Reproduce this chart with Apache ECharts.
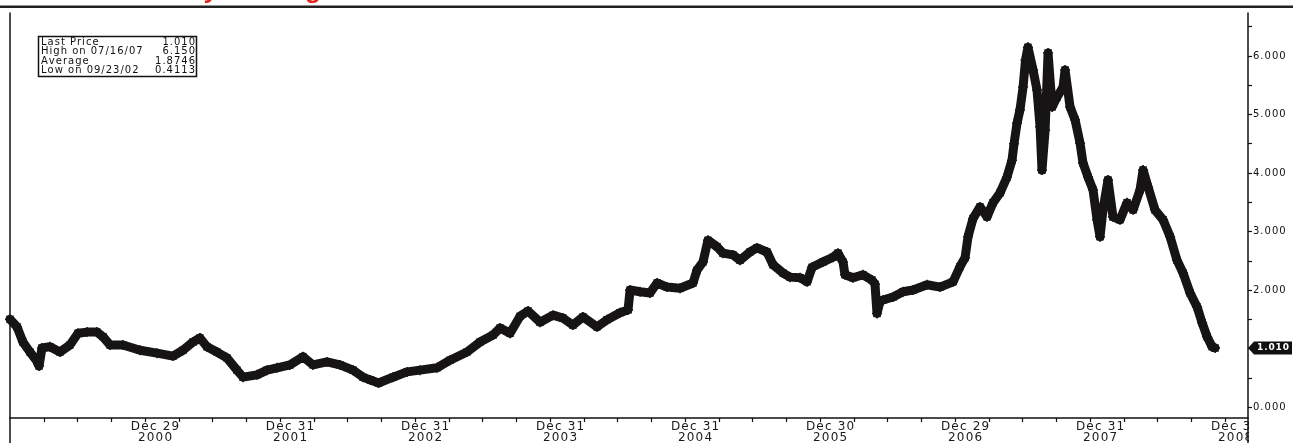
<!DOCTYPE html>
<html>
<head>
<meta charset="utf-8">
<script src="https://cdn.jsdelivr.net/npm/echarts@6/dist/echarts.min.js"></script>
<style>
  html, body { margin: 0; padding: 0; background: #fff; }
  #main { width: 1294px; height: 443px; }
</style>
</head>
<body>
<div id="main"></div>
<script>
// time in decimal years
const years = [
  2000.000, 2000.052, 2000.096, 2000.148, 2000.200, 2000.215, 2000.237, 2000.296, 2000.370, 2000.444,
  2000.504, 2000.570, 2000.644, 2000.689, 2000.741, 2000.837, 2000.963, 2001.089, 2001.207, 2001.281,
  2001.355, 2001.407, 2001.459, 2001.533, 2001.607, 2001.681, 2001.726, 2001.830, 2001.904, 2001.978,
  2002.074, 2002.170, 2002.244, 2002.348, 2002.444, 2002.541, 2002.615, 2002.670, 2002.730, 2002.837,
  2002.941, 2003.037, 2003.163, 2003.259, 2003.385, 2003.481, 2003.578, 2003.630, 2003.704, 2003.778,
  2003.837, 2003.926, 2004.022, 2004.096, 2004.170, 2004.244, 2004.348, 2004.422, 2004.518, 2004.578,
  2004.593, 2004.667, 2004.741, 2004.793, 2004.867, 2004.963, 2005.059, 2005.089, 2005.133, 2005.170,
  2005.237, 2005.281, 2005.355, 2005.407, 2005.481, 2005.533, 2005.607, 2005.652, 2005.726, 2005.778,
  2005.852, 2005.904, 2005.941, 2006.022, 2006.096, 2006.133, 2006.170, 2006.185, 2006.244, 2006.318,
  2006.385, 2006.407, 2006.422, 2006.444, 2006.467, 2006.541, 2006.615, 2006.689, 2006.793, 2006.889,
  2006.985, 2007.037, 2007.074, 2007.096, 2007.133, 2007.185, 2007.237, 2007.281, 2007.333, 2007.385,
  2007.422, 2007.437, 2007.459, 2007.481, 2007.504, 2007.522, 2007.540, 2007.578, 2007.607, 2007.630,
  2007.644, 2007.667, 2007.689, 2007.719, 2007.756, 2007.800, 2007.815, 2007.852, 2007.889, 2007.926,
  2007.948, 2007.985, 2008.022, 2008.052, 2008.074, 2008.096, 2008.133, 2008.170, 2008.222, 2008.274,
  2008.319, 2008.370, 2008.393, 2008.430, 2008.481, 2008.541, 2008.593, 2008.644, 2008.689, 2008.741,
  2008.793, 2008.830, 2008.867, 2008.904, 2008.926
];
const prices = [
  1.50, 1.37, 1.11, 0.94, 0.78, 0.70, 1.01, 1.03, 0.94, 1.06,
  1.26, 1.28, 1.28, 1.20, 1.06, 1.06, 0.97, 0.92, 0.87, 0.97,
  1.11, 1.18, 1.03, 0.94, 0.84, 0.63, 0.51, 0.55, 0.63, 0.67,
  0.72, 0.86, 0.72, 0.77, 0.72, 0.63, 0.51, 0.46, 0.41, 0.51,
  0.60, 0.63, 0.67, 0.80, 0.94, 1.11, 1.23, 1.35, 1.26, 1.55,
  1.64, 1.45, 1.57, 1.52, 1.40, 1.54, 1.37, 1.49, 1.61, 1.66,
  2.00, 1.97, 1.95, 2.12, 2.05, 2.03, 2.12, 2.34, 2.48, 2.85,
  2.74, 2.63, 2.60, 2.51, 2.65, 2.72, 2.65, 2.43, 2.29, 2.22,
  2.21, 2.14, 2.39, 2.48, 2.56, 2.63, 2.48, 2.26, 2.21, 2.26,
  2.17, 2.10, 1.60, 1.80, 1.83, 1.88, 1.97, 2.00, 2.09, 2.05,
  2.14, 2.40, 2.55, 2.91, 3.22, 3.42, 3.25, 3.49, 3.66, 3.93,
  4.22, 4.50, 4.85, 5.08, 5.47, 5.93, 6.15, 5.76, 5.42, 4.79,
  4.05, 4.73, 6.05, 5.13, 5.30, 5.47, 5.76, 5.13, 4.91, 4.51,
  4.17, 3.93, 3.71, 3.20, 2.91, 3.37, 3.88, 3.25, 3.20, 3.49,
  3.37, 3.71, 4.05, 3.76, 3.37, 3.20, 2.91, 2.51, 2.29, 1.95,
  1.71, 1.44, 1.20, 1.03, 1.01
];

// x axis labels (year-end trading days)
const labelPos = [2001, 2002, 2003, 2004, 2005, 2006, 2007, 2008, 2009];
const labelDays = ['Dec 29', 'Dec 31', 'Dec 31', 'Dec 31', 'Dec 31', 'Dec 30', 'Dec 29', 'Dec 31', 'Dec 31'];
const labelYears = ['2000', '2001', '2002', '2003', '2004', '2005', '2006', '2007', '2008'];
const quarterTicks = [];
for (let q = 2000.25; q <= 2009.01; q += 0.25) quarterTicks.push(+q.toFixed(2));

// y axis
const yLabels = [0, 1, 2, 3, 4, 5, 6];
const yTicks = [0, 0.5, 1, 1.5, 2, 2.5, 3, 3.5, 4, 4.5, 5, 5.5, 6, 6.5];

// stats box
const statRows = [
  ['Last Price', '1.010'],
  ['High on 07/16/07', '6.150'],
  ['Average', '1.8746'],
  ['Low on 09/23/02', '0.4113']
];
const lastPrice = 1.010;

const xMin = 2000.0, xMax = 2009.17;
const spaced = s => s.split('').join('\u200A');

const chart = echarts.init(document.getElementById('main'));

const statTexts = [];
statRows.forEach((r, i) => {
  statTexts.push({
    type: 'text', left: 41, top: 37.5 + i * 9.4,
    style: { text: spaced(r[0]), font: '10px "DejaVu Sans"', fill: '#111' }
  });
  statTexts.push({
    type: 'text', right: 1294 - 195, top: 37.5 + i * 9.4,
    style: { text: spaced(r[1]), font: '10px "DejaVu Sans"', fill: '#111', align: 'right' }
  });
});

const option = {
  animation: false,
  backgroundColor: '#fff',
  grid: { left: 10, right: 46, top: 13, bottom: 25, outerBoundsMode: 'none', containLabel: false },
  xAxis: {
    type: 'value',
    min: xMin,
    max: xMax,
    splitLine: { show: false },
    axisLine: { onZero: false, lineStyle: { color: '#111', width: 1.5 } },
    axisTick: {
      customValues: quarterTicks,
      length: 4,
      lineStyle: { color: '#111', width: 1.2 }
    },
    axisLabel: {
      customValues: labelPos,
      margin: 3,
      padding: [0, 0, 0, 20],
      lineHeight: 11,
      fontFamily: 'DejaVu Sans',
      fontSize: 12,
      color: '#1a1a1a',
      formatter: v => {
        const i = labelPos.indexOf(Math.round(v));
        return i < 0 ? '' : spaced(labelDays[i]) + '\n' + spaced(labelYears[i]);
      }
    }
  },
  yAxis: [{
    type: 'value',
    position: 'right',
    min: -0.188,
    max: 6.735,
    splitLine: { show: false },
    axisLine: { show: true, onZero: false, lineStyle: { color: '#111', width: 1.5 } },
    axisTick: {
      show: true,
      customValues: yTicks,
      length: 4,
      lineStyle: { color: '#111', width: 1.2 }
    },
    axisLabel: {
      customValues: yLabels,
      margin: 5,
      fontFamily: 'DejaVu Sans',
      fontSize: 10,
      color: '#111',
      formatter: v => spaced(v.toFixed(3))
    }
  }, {
    type: 'value',
    position: 'left',
    min: -0.188,
    max: 6.735,
    splitLine: { show: false },
    axisLine: { show: true, onZero: false, lineStyle: { color: '#111', width: 1.5 } },
    axisTick: { show: false },
    axisLabel: { show: false }
  }],
  series: [{
    type: 'line',
    data: years.map((t, i) => [t, prices[i]]),
    showSymbol: true,
    symbol: 'path://M0,5L10,5M5,0L5,10M1.5,1.5L8.5,8.5M8.5,1.5L1.5,8.5',
    symbolSize: 10,
    itemStyle: { color: '#161414', borderColor: '#161414', borderWidth: 1.5 },
    lineStyle: { color: '#161414', width: 9, join: 'round', cap: 'round' },
    emphasis: { disabled: true },
    markPoint: {
      silent: true,
      z: 10,
      symbol: 'path://M0,5L6,0L44,0L44,10L6,10Z',
      symbolSize: [44, 13],
      symbolKeepAspect: false,
      symbolOffset: [22, 0],
      itemStyle: { color: '#111' },
      label: {
        show: true,
        position: 'inside',
        offset: [3, 0],
        color: '#fff',
        fontFamily: 'DejaVu Sans',
        fontWeight: 'bold',
        fontSize: 9,
        formatter: () => spaced(lastPrice.toFixed(3))
      },
      data: [{ coord: [xMax, lastPrice] }]
    }
  }],
  graphic: [
    // red heading, mostly cut off at the top
    {
      type: 'text', left: 158, top: -22,
      style: { text: 'Daily Closing Price', font: 'italic bold 26px "Liberation Sans"', fill: '#e3261b' }
    },
    { type: 'rect', shape: { x: 0, y: 5.5, width: 1293, height: 2.5 }, style: { fill: '#222' } },
    // frame extensions below the axis
    { type: 'rect', z: 50, shape: { x: 1249, y: 419, width: 45, height: 24 }, style: { fill: '#fff' } },
    { type: 'line', z: 51, shape: { x1: 10, y1: 418, x2: 10, y2: 443 }, style: { stroke: '#111', lineWidth: 1.5 } },
    { type: 'line', z: 51, shape: { x1: 1248, y1: 418, x2: 1248, y2: 443 }, style: { stroke: '#111', lineWidth: 1.5 } },
    // stats box
    { type: 'rect', shape: { x: 38.5, y: 36.5, width: 158, height: 40 }, style: { fill: '#fff', stroke: '#111', lineWidth: 1.5 } }
  ].concat(statTexts)
};

chart.setOption(option);
</script>
</body>
</html>
